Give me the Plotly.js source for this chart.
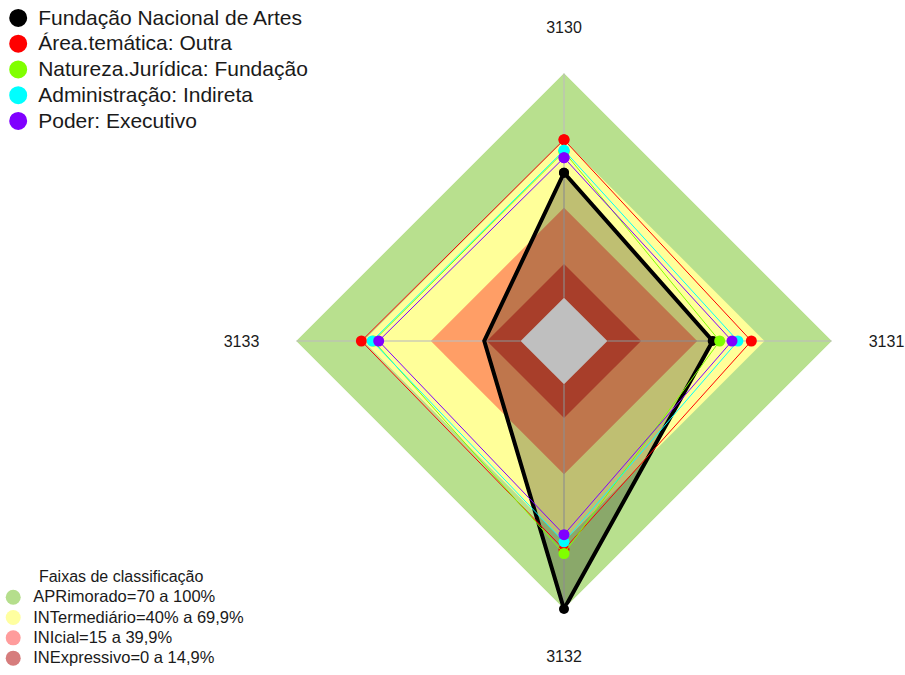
<!DOCTYPE html>
<html>
<head>
<meta charset="utf-8">
<script src="https://cdn.plot.ly/plotly-3.0.1.min.js"></script>
<style>
  html, body { margin: 0; padding: 0; background: #fff; }
  #chart { width: 905px; height: 675px; }
</style>
</head>
<body>
<div id="chart"></div>
<script>
// axes of the radar (clockwise from the top)
const categories = ['3130', '3131', '3132', '3133'];

// series values, in % per axis
const seriesNames = ['Fundação Nacional de Artes', 'Área.temática: Outra', 'Natureza.Jurídica: Fundação',
  'Administração: Indireta', 'Poder: Executivo'];
const fundacao = [55.6, 46.9, 100, 16.2];
const areaOutra = [70.3, 64.1, 73.5, 70.9];
const naturezaFundacao = [65.0, 50.0, 75.3, 65.5];
const administracaoIndireta = [65.6, 58.1, 70.1, 66.1];
const poderExecutivo = [62.3, 55.5, 66.9, 63.2];
const seriesValues = [fundacao, areaOutra, naturezaFundacao, administracaoIndireta, poderExecutivo];
const seriesColors = ['#000000', '#ff0000', '#80ff00', '#00ffff', '#8000ff'];

// classification bands (upper limit of each band)
const bandNames = ['APRimorado=70 a 100%', 'INTermediário=40% a 69,9%', 'INIcial=15 a 39,9%', 'INExpressivo=0 a 14,9%'];
const bandUpper = [100, 70, 40, 15];
const bandFill = ['#b8e08e', '#ffff99', '#ff9e66', '#e05338'];
const bandSwatch = ['#b5de8c', '#ffffa0', '#ff9c9c', '#d67c7c'];

const closed = arr => arr.concat([arr[0]]);
const thetaClosed = closed(categories);
const font = 'Liberation Sans, Arial, sans-serif';
// legend text is drawn a bit larger than the row spacing would give
const big = (txt, px) => '<span style="font-size:' + px + 'px">' + txt + '</span>';

const traces = [];

// background bands
bandUpper.forEach((v, i) => {
  traces.push({
    type: 'scatterpolar', r: closed(categories.map(() => v)), theta: thetaClosed,
    mode: 'lines', fill: 'toself', fillcolor: bandFill[i], line: { width: 0, color: bandFill[i] },
    showlegend: false, hoverinfo: 'skip'
  });
});
// inner hole (lower limit 0)
traces.push({
  type: 'scatterpolar', r: closed(categories.map(() => 0)), theta: thetaClosed,
  mode: 'lines', fill: 'toself', fillcolor: '#ffffff', line: { width: 0, color: '#ffffff' },
  showlegend: false, hoverinfo: 'skip'
});
// spokes
categories.forEach(c => {
  traces.push({
    type: 'scatterpolar', r: [0, 100], theta: [c, c], mode: 'lines',
    line: { color: 'rgba(190,190,190,0.75)', width: 1.5 }, showlegend: false, hoverinfo: 'skip'
  });
});

// data series
seriesValues.forEach((vals, i) => {
  const main = i === 0;
  traces.push({
    type: 'scatterpolar', r: closed(vals), theta: thetaClosed, name: seriesNames[i],
    mode: 'lines+markers',
    fill: main ? 'toself' : 'none',
    fillcolor: 'rgba(0,0,0,0.25)',
    line: { color: seriesColors[i], width: main ? 4 : 1 },
    marker: { color: seriesColors[i], size: main ? 10 : 11 },
    showlegend: false
  });
});

// legend entries: series
seriesNames.forEach((n, i) => {
  traces.push({
    type: 'scatterpolar', r: [null], theta: [null], name: big(n, 21), mode: 'markers',
    marker: { color: seriesColors[i], size: 16, line: { color: seriesColors[i], width: 2 } },
    legend: 'legend'
  });
});
// legend entries: bands
bandNames.forEach((n, i) => {
  traces.push({
    type: 'scatterpolar', r: [null], theta: [null], name: big(n, 16.5), mode: 'markers',
    marker: { color: bandSwatch[i], size: 15 },
    legend: 'legend2'
  });
});

const layout = {
  width: 905, height: 675,
  margin: { l: 0, r: 0, t: 0, b: 0, autoexpand: false },
  paper_bgcolor: '#ffffff',
  font: { family: font, color: '#1a1a1a' },
  polar: {
    domain: { x: [296 / 905, 832 / 905], y: [1 - 609 / 675, 1 - 73 / 675] },
    gridshape: 'linear',
    bgcolor: 'rgba(0,0,0,0)',
    radialaxis: { visible: false, range: [-19.3, 100] },
    angularaxis: {
      type: 'category', categoryarray: categories, rotation: 90, direction: 'clockwise',
      showgrid: false, showline: false,
      ticks: 'outside', ticklen: 33, tickcolor: 'rgba(0,0,0,0)',
      tickfont: { size: 16, color: '#1a1a1a', family: font }
    }
  },
  legend: {
    x: -0.002, xanchor: 'left', y: 1.0, yanchor: 'top',
    font: { size: 17.5, family: font, color: '#1a1a1a' },
    bgcolor: 'rgba(0,0,0,0)', tracegroupgap: 0, itemclick: false
  },
  legend2: {
    x: -0.0075, xanchor: 'left', y: 0.0025, yanchor: 'bottom',
    title: { text: big('Faixas de classificação', 16), side: 'top center', font: { size: 16, family: font, color: '#1a1a1a' } },
    font: { size: 13.3, family: font, color: '#1a1a1a' },
    bgcolor: 'rgba(0,0,0,0)', tracegroupgap: 0, itemclick: false
  }
};

Plotly.newPlot('chart', traces, layout, { displayModeBar: false, staticPlot: true });
</script>
</body>
</html>
